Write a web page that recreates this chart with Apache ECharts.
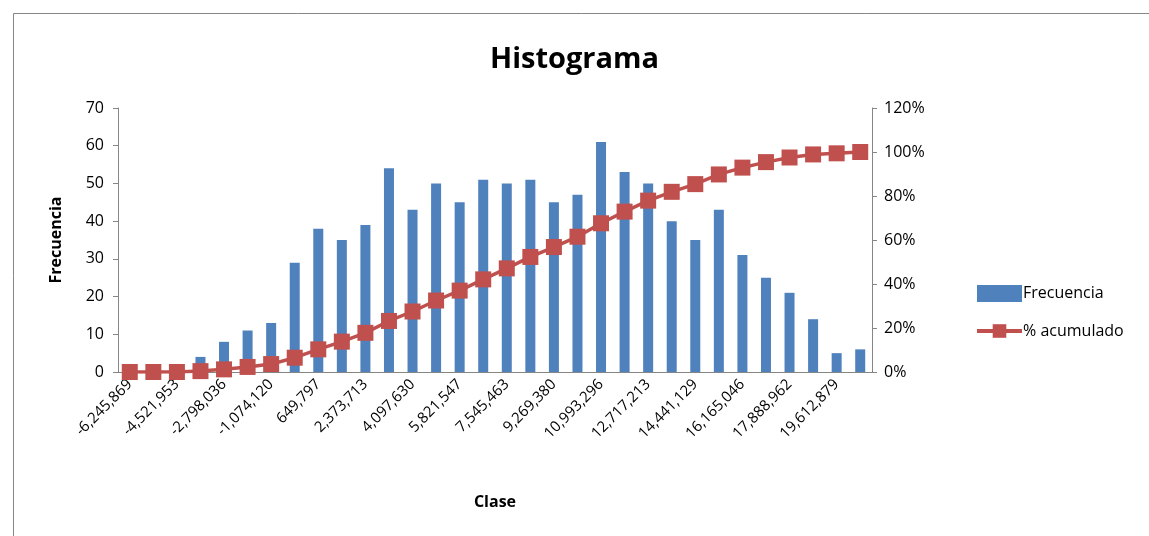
<!DOCTYPE html>
<html>
<head>
<meta charset="utf-8">
<script src="https://cdn.jsdelivr.net/npm/echarts@6/dist/echarts.min.js"></script>
<style>
html, body { margin: 0; padding: 0; background: #fff; }
#mychart { width: 1149px; height: 536px; }
</style>
</head>
<body>
<div id="mychart"></div>
<script>
// clases del histograma (marca de clase)
const clases = ['-6,245,869', '-5,383,911', '-4,521,953', '-3,659,994', '-2,798,036', '-1,936,078',
  '-1,074,120', '-212,162', '649,797', '1,511,755', '2,373,713', '3,235,672', '4,097,630',
  '4,959,588', '5,821,547', '6,683,505', '7,545,463', '8,407,422', '9,269,380', '10,131,338',
  '10,993,296', '11,855,255', '12,717,213', '13,579,171', '14,441,129', '15,303,088',
  '16,165,046', '17,027,004', '17,888,962', '18,750,921', '19,612,879', '20,474,837']
const frecuencia = [0, 0, 0, 4, 8, 11, 13, 29, 38, 35, 39, 54, 43, 50, 45, 51,
  50, 51, 45, 47, 61, 53, 50, 40, 35, 43, 31, 25, 21, 14, 5, 6]
const acumulado = [0, 0, 0, 0.4, 1.2, 2.3, 3.6, 6.5, 10.3, 13.8, 17.8, 23.2, 27.5, 32.5, 37.0, 42.1,
  47.1, 52.3, 56.8, 61.5, 67.6, 72.9, 77.9, 81.9, 85.4, 89.8, 92.9, 95.4, 97.5, 98.9, 99.4, 100]
const ticksIzq = [0, 70, 10]
const ticksDer = [0, 120, 20]

const font = 'Open Sans'
const rojo = '#C0504D'
const mychart = echarts.init(document.getElementById('mychart'))
mychart.setOption({
  animation: false,
  textStyle: { fontFamily: font },
  graphic: [{
    type: 'rect',
    shape: { x: 13.5, y: 13.5, width: 1200, height: 600 },
    style: { fill: 'none', stroke: '#868686', lineWidth: 1 }
  }],
  title: {
    text: 'Histograma',
    left: 'center',
    top: 40,
    textStyle: { fontSize: 29, fontWeight: 'bold', color: '#000', fontFamily: font }
  },
  legend: {
    orient: 'vertical',
    left: 970,
    top: 280,
    itemGap: 21,
    itemWidth: 45,
    itemHeight: 17,
    textStyle: { fontSize: 16, color: '#000', padding: [0, 0, 0, -4] },
    data: [
      { name: 'Frecuencia', icon: 'rect' },
      { name: '% acumulado', lineStyle: { width: 4, color: rojo } }
    ]
  },
  grid: { // area del grafico
    left: 118,
    right: 277,
    top: 108,
    bottom: 164
  },
  xAxis: {
    type: 'category',
    data: clases,
    name: 'Clase',
    nameLocation: 'middle',
    nameGap: 122,
    nameTextStyle: { fontSize: 16, fontWeight: 'bold', color: '#000' },
    axisLine: { lineStyle: { color: '#868686' } },
    axisTick: { interval: 0, length: 5, lineStyle: { color: '#868686' } },
    axisLabel: { interval: 1, rotate: 45, fontSize: 15, color: '#000', margin: 10 }
  },
  yAxis: [{
    type: 'value',
    min: ticksIzq[0],
    max: ticksIzq[1],
    interval: ticksIzq[2],
    name: 'Frecuencia',
    nameLocation: 'middle',
    nameGap: 54,
    nameTextStyle: { fontSize: 16, fontWeight: 'bold', color: '#000' },
    splitLine: { show: false },
    axisLine: { show: true, lineStyle: { color: '#868686' } },
    axisTick: { show: true, length: 5, lineStyle: { color: '#868686' } },
    axisLabel: { fontSize: 16, color: '#000', margin: 14 }
  }, {
    type: 'value',
    min: ticksDer[0],
    max: ticksDer[1],
    interval: ticksDer[2],
    splitLine: { show: false },
    axisLine: { show: true, lineStyle: { color: '#868686' } },
    axisTick: { show: true, length: 5, lineStyle: { color: '#868686' } },
    axisLabel: { fontSize: 16, color: '#000', margin: 12, formatter: '{value}%' }
  }],
  series: [{
    name: 'Frecuencia',
    type: 'bar',
    data: frecuencia,
    barWidth: 10,
    itemStyle: { color: '#4F81BD' }
  }, {
    name: '% acumulado',
    type: 'line',
    yAxisIndex: 1,
    data: acumulado,
    symbol: 'rect',
    symbolSize: 16,
    showAllSymbol: true,
    lineStyle: { color: rojo, width: 3.5 },
    itemStyle: { color: rojo }
  }]
})
</script>
</body>
</html>
